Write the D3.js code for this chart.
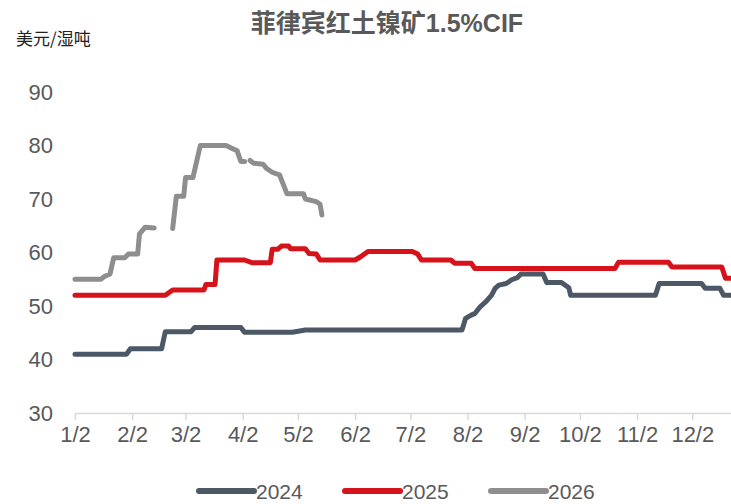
<!DOCTYPE html>
<html>
<head>
<meta charset="utf-8">
<script src="https://cdn.jsdelivr.net/npm/d3@7"></script>
<style>
  body { margin: 0; background: #fff; }
  svg { display: block; }
</style>
</head>
<body>
<svg id="chart" width="731" height="504"></svg>
<script>
const TITLE = '菲律宾红土镍矿1.5%CIF';
const UNIT = '美元/湿吨';
const TICK_DATES = ['01-02', '02-02', '03-02', '04-02', '05-02', '06-02', '07-02', '08-02', '09-02', '10-02', '11-02', '12-02'];
const TICK_LABELS = ['1/2', '2/2', '3/2', '4/2', '5/2', '6/2', '7/2', '8/2', '9/2', '10/2', '11/2', '12/2'];
const Y_TICKS = [30, 40, 50, 60, 70, 80, 90];
const SERIES_NAMES = ['2024', '2025', '2026'];
const SERIES_COLORS = ['#4c5866', '#d6121a', '#8e8e8e'];

// day points (MM-DD) and prices, null = no quote
const DATES_2024 = ['01-02', '01-30', '02-01', '02-18', '02-20', '03-05', '03-07', '04-01', '04-03', '04-29', '05-06',
  '07-30', '08-01', '08-04', '08-06', '08-09', '08-12', '08-15', '08-17', '08-19', '08-23', '08-26', '08-29', '08-31',
  '09-12', '09-14', '09-22', '09-26', '09-27', '11-12', '11-14', '12-07', '12-09', '12-17', '12-19', '12-23'];
const VALUES_2024 = [41, 41, 42, 42, 45.2, 45.2, 46, 46, 45.1, 45.1, 45.5,
  45.5, 47.7, 48.3, 48.6, 49.9, 50.8, 52, 53.3, 53.9, 54.2, 54.9, 55.3, 56,
  56, 54.4, 54.4, 53.4, 52, 52, 54.2, 54.2, 53.3, 53.3, 52, 52];

const DATES_2025 = ['01-02', '02-20', '02-24', '03-12', '03-13', '03-18', '03-19', '04-03', '04-07', '04-17', '04-18',
  '04-21', '04-23', '04-27', '04-28', '05-06', '05-08', '05-12', '05-14', '06-02', '06-05', '06-09', '07-03', '07-06',
  '07-08', '07-24', '07-26', '08-04', '08-06', '10-21', '10-23', '11-19', '11-21', '12-18', '12-20', '12-23'];
const VALUES_2025 = [52, 52, 53, 53, 54, 54, 58.6, 58.6, 58.1, 58.1, 60.6,
  60.6, 61.2, 61.2, 60.7, 60.7, 59.8, 59.7, 58.6, 58.6, 59.2, 60.2, 60.2, 59.7,
  58.6, 58.6, 58, 58, 57, 57, 58.2, 58.2, 57.3, 57.3, 55.2, 55.2];

const DATES_2026 = ['01-02', '01-16', '01-18', '01-21', '01-23', '01-29', '01-31', '02-05', '02-06', '02-09', '02-14',
  '02-19', '02-24', '02-26', '03-01', '03-02', '03-06', '03-10', '03-24', '03-27', '03-30', '04-01', '04-03',
  '04-05', '04-06', '04-08', '04-13', '04-15', '04-18', '04-22', '04-26', '05-05', '05-06', '05-12', '05-14', '05-15'];
const VALUES_2026 = [55, 55, 55.5, 56, 59, 59, 59.7, 59.7, 63.5, 64.7, 64.6,
  null, 64.5, 70.5, 70.5, 74, 74, 80, 80, 79.5, 79, 77, 77,
  null, 77.2, 76.7, 76.5, 75.7, 75, 74.5, 71, 71, 70, 69.5, 69, 67];

const parseDay = d3.timeParse('%Y-%m-%d');
const toDate = md => parseDay('2024-' + md);

const series = [
  { name: SERIES_NAMES[0], color: SERIES_COLORS[0], points: DATES_2024.map((d, i) => ({ date: toDate(d), value: VALUES_2024[i] })) },
  { name: SERIES_NAMES[1], color: SERIES_COLORS[1], points: DATES_2025.map((d, i) => ({ date: toDate(d), value: VALUES_2025[i] })) },
  { name: SERIES_NAMES[2], color: SERIES_COLORS[2], points: DATES_2026.map((d, i) => ({ date: toDate(d), value: VALUES_2026[i] })) },
];

const svg = d3.select('#chart');
const textColor = '#595959';
const axisColor = '#d9d9d9';
const font = '"Liberation Sans", Arial, sans-serif';

const x = d3.scaleTime()
  .domain([toDate('01-02'), toDate('12-23')])
  .range([75, 731]);
const y = d3.scaleLinear()
  .domain([30, 90])
  .range([413, 92]);

// title and unit
svg.append('text')
  .attr('x', 387)
  .attr('y', 32)
  .attr('text-anchor', 'middle')
  .attr('font-family', '"Liberation Sans", "Noto Sans CJK SC", sans-serif')
  .attr('font-weight', 'bold')
  .attr('font-size', 25)
  .attr('fill', textColor)
  .text(TITLE);

svg.append('text')
  .attr('x', 16)
  .attr('y', 45)
  .attr('font-family', '"Noto Sans CJK SC", sans-serif')
  .attr('font-size', 17)
  .attr('fill', '#222')
  .text(UNIT);

// y labels, no axis line
svg.append('g')
  .selectAll('text')
  .data(Y_TICKS)
  .enter()
  .append('text')
  .attr('x', 53)
  .attr('y', v => y(v))
  .attr('dy', '0.36em')
  .attr('text-anchor', 'end')
  .attr('font-family', font)
  .attr('font-size', 22)
  .attr('fill', textColor)
  .text(v => v);

// x axis
const xAxis = d3.axisBottom(x)
  .tickValues(TICK_DATES.map(toDate))
  .tickFormat((d, i) => TICK_LABELS[i])
  .tickSizeInner(7)
  .tickSizeOuter(0)
  .tickPadding(6);

const gx = svg.append('g')
  .attr('transform', `translate(0,${y(30)})`)
  .call(xAxis);
gx.select('.domain').attr('stroke', axisColor).attr('stroke-width', 1.5);
gx.selectAll('.tick line').attr('stroke', axisColor).attr('stroke-width', 1.5);
gx.selectAll('.tick text')
  .attr('font-family', font)
  .attr('font-size', 22)
  .attr('fill', textColor);

// lines
const line = d3.line()
  .defined(p => p.value != null)
  .x(p => x(p.date))
  .y(p => y(p.value));

svg.append('g')
  .selectAll('path')
  .data(series)
  .enter()
  .append('path')
  .attr('fill', 'none')
  .attr('stroke', s => s.color)
  .attr('stroke-width', 5)
  .attr('stroke-linejoin', 'round')
  .attr('stroke-linecap', 'round')
  .attr('d', s => line(s.points));

// legend
const legend = svg.append('g')
  .selectAll('g')
  .data(series)
  .enter()
  .append('g')
  .attr('transform', (s, i) => `translate(${199 + i * 146},491)`);
legend.append('line')
  .attr('x1', 0)
  .attr('x2', 55)
  .attr('stroke', s => s.color)
  .attr('stroke-width', 6)
  .attr('stroke-linecap', 'round');
legend.append('text')
  .attr('x', 57)
  .attr('dy', '0.36em')
  .attr('font-family', font)
  .attr('font-size', 21)
  .attr('fill', textColor)
  .text(s => s.name);
</script>
</body>
</html>
